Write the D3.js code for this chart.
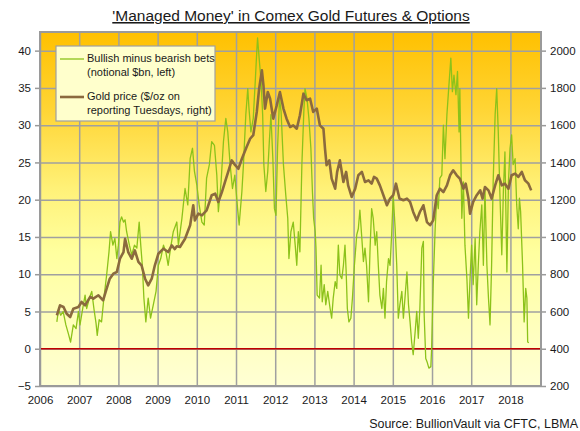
<!DOCTYPE html>
<html><head><meta charset="utf-8">
<script src="https://cdn.jsdelivr.net/npm/d3@7"></script>
<style>
body{margin:0;background:#fff;}
svg{display:block;font-family:"Liberation Sans",Arial,sans-serif;}
</style></head>
<body><svg id="c" width="580" height="431"></svg>
<script>
const titleText = "'Managed Money' in Comex Gold Futures & Options";
const sourceText = "Source: BullionVault via CFTC, LBMA";
const legendBets = ["Bullish minus bearish bets", "(notional $bn, left)"];
const legendGold = ["Gold price ($/oz on", "reporting Tuesdays, right)"];
const yearTicks = [2006,2007,2008,2009,2010,2011,2012,2013,2014,2015,2016,2017,2018];
const leftTicks = [-5,0,5,10,15,20,25,30,35,40];
const rightTicks = [200,400,600,800,1000,1200,1400,1600,1800,2000];

const goldYears = [2006.43,2006.51,2006.60,2006.68,2006.77,2006.85,2006.98,2007.06,2007.15,2007.28,2007.36,2007.49,2007.61,2007.70,2007.78,2007.87,2007.96,2008.04,2008.13,2008.17,2008.25,2008.34,2008.42,2008.51,2008.59,2008.68,2008.76,2008.85,2008.93,2009.02,2009.15,2009.27,2009.36,2009.44,2009.49,2009.57,2009.70,2009.83,2009.91,2009.95,2010.04,2010.13,2010.25,2010.38,2010.47,2010.55,2010.64,2010.72,2010.80,2010.89,2010.98,2011.06,2011.15,2011.27,2011.36,2011.44,2011.53,2011.59,2011.66,2011.70,2011.74,2011.81,2011.87,2011.95,2012.04,2012.12,2012.21,2012.29,2012.38,2012.46,2012.55,2012.63,2012.72,2012.80,2012.89,2012.97,2013.06,2013.14,2013.23,2013.27,2013.31,2013.38,2013.44,2013.53,2013.58,2013.65,2013.74,2013.81,2013.86,2013.95,2014.04,2014.12,2014.21,2014.29,2014.38,2014.46,2014.52,2014.59,2014.67,2014.76,2014.85,2014.93,2015.01,2015.08,2015.17,2015.27,2015.36,2015.44,2015.52,2015.61,2015.69,2015.78,2015.87,2015.95,2016.03,2016.12,2016.20,2016.29,2016.38,2016.46,2016.54,2016.63,2016.71,2016.80,2016.86,2016.93,2016.97,2017.05,2017.14,2017.23,2017.29,2017.35,2017.44,2017.52,2017.61,2017.69,2017.78,2017.86,2017.95,2018.03,2018.12,2018.20,2018.29,2018.37,2018.46,2018.53];
const goldPrice = [579,633,624,588,570,615,624,651,633,678,669,687,660,722,776,803,812,883,919,990,919,883,928,866,848,776,740,776,848,910,937,919,955,935,950,946,990,1063,1170,1089,1125,1116,1143,1224,1232,1188,1241,1295,1349,1411,1385,1366,1420,1483,1527,1546,1671,1796,1894,1814,1689,1778,1742,1635,1707,1778,1689,1635,1590,1599,1581,1653,1769,1734,1742,1671,1689,1599,1581,1474,1385,1411,1313,1259,1349,1411,1295,1349,1277,1215,1259,1331,1349,1295,1304,1286,1322,1313,1277,1224,1170,1206,1224,1286,1206,1197,1206,1188,1134,1089,1134,1170,1080,1063,1089,1224,1259,1241,1277,1331,1358,1331,1313,1259,1286,1206,1125,1188,1224,1250,1206,1268,1250,1206,1277,1331,1277,1286,1259,1331,1340,1322,1349,1304,1286,1250];

const betYears = [2006.43,2006.47,2006.53,2006.59,2006.66,2006.72,2006.78,2006.85,2006.92,2006.98,2007.02,2007.09,2007.15,2007.19,2007.26,2007.32,2007.38,2007.43,2007.46,2007.51,2007.57,2007.63,2007.70,2007.76,2007.80,2007.86,2007.91,2007.96,2008.00,2008.04,2008.08,2008.13,2008.17,2008.21,2008.28,2008.34,2008.41,2008.47,2008.53,2008.57,2008.61,2008.65,2008.70,2008.76,2008.82,2008.89,2008.96,2009.02,2009.08,2009.15,2009.21,2009.27,2009.33,2009.40,2009.49,2009.53,2009.62,2009.70,2009.77,2009.83,2009.89,2009.94,2010.00,2010.06,2010.13,2010.19,2010.25,2010.32,2010.38,2010.45,2010.51,2010.55,2010.62,2010.68,2010.74,2010.79,2010.85,2010.91,2010.97,2011.04,2011.08,2011.15,2011.19,2011.25,2011.30,2011.33,2011.38,2011.44,2011.49,2011.53,2011.55,2011.59,2011.64,2011.68,2011.71,2011.76,2011.81,2011.85,2011.89,2011.94,2011.98,2012.02,2012.06,2012.11,2012.15,2012.21,2012.27,2012.32,2012.35,2012.40,2012.46,2012.51,2012.55,2012.59,2012.63,2012.68,2012.73,2012.76,2012.81,2012.86,2012.91,2012.95,2012.98,2013.02,2013.04,2013.07,2013.13,2013.17,2013.20,2013.25,2013.29,2013.34,2013.40,2013.44,2013.48,2013.53,2013.57,2013.61,2013.65,2013.70,2013.74,2013.78,2013.81,2013.84,2013.88,2013.93,2013.97,2014.02,2014.08,2014.12,2014.16,2014.21,2014.25,2014.29,2014.33,2014.38,2014.42,2014.46,2014.50,2014.55,2014.59,2014.63,2014.67,2014.72,2014.76,2014.80,2014.84,2014.89,2014.93,2014.97,2015.01,2015.06,2015.10,2015.14,2015.18,2015.23,2015.27,2015.31,2015.36,2015.40,2015.44,2015.48,2015.52,2015.57,2015.61,2015.65,2015.69,2015.74,2015.78,2015.80,2015.84,2015.87,2015.92,2015.97,2015.99,2016.03,2016.08,2016.12,2016.16,2016.20,2016.25,2016.29,2016.33,2016.38,2016.42,2016.48,2016.52,2016.56,2016.61,2016.65,2016.69,2016.71,2016.76,2016.80,2016.84,2016.89,2016.93,2016.97,2017.01,2017.05,2017.10,2017.14,2017.18,2017.22,2017.27,2017.31,2017.35,2017.40,2017.44,2017.48,2017.52,2017.56,2017.61,2017.65,2017.69,2017.73,2017.78,2017.82,2017.86,2017.91,2017.95,2017.99,2018.03,2018.07,2018.12,2018.16,2018.20,2018.23,2018.26,2018.31,2018.35,2018.39,2018.42,2018.44,2018.47,2018.53];
const betValue = [3.6,5.2,4.5,5.0,3.2,2.1,0.9,3.2,2.7,5.0,3.2,5.4,7.2,5.4,6.8,7.7,5.2,3.4,1.8,3.9,3.6,6.8,9.9,13.0,15.7,13.9,14.8,12.1,13.9,17.0,17.7,17.0,17.3,15.7,13.9,12.6,13.9,13.5,17.0,13.9,11.2,6.8,3.6,6.8,4.1,5.9,7.7,11.2,12.1,13.9,13.0,11.2,13.5,15.7,17.0,13.9,17.5,21.5,19.3,25.5,26.9,23.8,22.0,19.3,17.0,16.6,22.9,24.7,27.8,27.3,23.3,18.4,22.4,27.8,30.9,29.1,24.7,21.5,23.3,18.8,16.6,21.1,24.7,31.4,34.9,32.3,29.1,30.9,35.8,39.9,41.7,39.0,35.8,31.4,24.7,21.1,23.8,27.8,31.4,25.5,18.8,17.9,26.9,33.6,31.8,24.7,20.6,17.5,12.1,15.7,17.0,13.9,11.2,15.7,13.0,24.7,31.8,34.9,33.6,30.9,26.9,21.0,17.5,15.7,13.5,7.2,6.8,11.2,6.3,8.6,5.9,7.7,5.4,4.1,6.8,9.0,8.1,13.9,9.9,9.4,11.2,13.9,10.3,5.4,3.6,4.1,6.8,11.2,15.3,16.1,18.6,14.8,11.7,13.5,11.2,6.3,13.5,18.8,17.5,13.9,15.7,11.2,7.2,5.4,8.1,4.1,9.0,12.1,11.2,15.3,20.6,16.1,11.2,4.1,5.9,7.7,4.1,6.8,10.3,5.9,3.6,0.9,-0.8,2.3,5.0,1.4,5.4,13.5,14.4,4.5,-1.3,-1.7,-2.6,-2.4,0.0,8.6,16.1,20.2,18.8,22.9,23.3,30.0,25.5,31.4,34.5,39.0,34.5,36.7,34.1,37.2,29.1,34.9,17.5,22.4,13.9,9.4,4.1,9.4,13.9,8.6,14.8,5.9,11.2,15.7,19.3,11.2,21.5,11.2,6.8,3.2,11.2,22.4,31.4,34.9,29.1,21.1,12.6,21.1,26.4,10.3,22.4,26.9,28.7,24.7,25.5,19.3,16.1,20.2,18.4,11.2,3.6,8.1,6.8,0.9,0.8];

const svg = d3.select("#c");
const L = 40, R = 541, T = 32, B = 386;
const x = d3.scaleLinear().domain([2006, 2018.78]).range([L, R]);
const yL = d3.scaleLinear().domain([-5, 42.5]).range([B, T]);
const yR = d3.scaleLinear().domain([200, 2100]).range([B, T]);

const defs = svg.append("defs");
const grad = defs.append("linearGradient").attr("id","bg").attr("x1",0).attr("y1",0).attr("x2",0).attr("y2",1);
[["0%","#ffc000"],["22%","#ffd535"],["45%","#fff27a"],["62%","#ffff9e"],["100%","#ffffd4"]].forEach(s=>grad.append("stop").attr("offset",s[0]).attr("stop-color",s[1]));
defs.append("clipPath").attr("id","clip").append("rect").attr("x",L).attr("y",T).attr("width",R-L).attr("height",B-T);

svg.append("rect").attr("x",L).attr("y",T).attr("width",R-L).attr("height",B-T).attr("fill","url(#bg)");

// grid
const gridY = svg.append("g").attr("transform",`translate(${L},0)`)
  .call(d3.axisLeft(yL).tickValues(leftTicks).tickSize(-(R-L)).tickFormat(""));
gridY.select(".domain").remove();
gridY.selectAll("line").attr("stroke","#a0a0a0").attr("stroke-width",1.5);
const gridX = svg.append("g").attr("transform",`translate(0,${B})`)
  .call(d3.axisBottom(x).tickValues(yearTicks).tickSize(-(B-T)).tickFormat(""));
gridX.select(".domain").remove();
gridX.selectAll("line").attr("stroke","#a0a0a0").attr("stroke-width",1.5);

// zero line
svg.append("line").attr("x1",L).attr("x2",R).attr("y1",yL(0)).attr("y2",yL(0)).attr("stroke","#c00000").attr("stroke-width",1.5);

const g = svg.append("g").attr("clip-path","url(#clip)");
const betData = betYears.map((d,i)=>[d,betValue[i]]);
const goldData = goldYears.map((d,i)=>[d,goldPrice[i]]);
g.append("path").datum(betData).attr("fill","none").attr("stroke","#8cc21a").attr("stroke-width",1.3).attr("stroke-linejoin","round")
  .attr("d", d3.line().x(d=>x(d[0])).y(d=>yL(d[1])));
g.append("path").datum(goldData).attr("fill","none").attr("stroke","#8b6a3e").attr("stroke-width",2.6).attr("stroke-linejoin","round")
  .attr("d", d3.line().x(d=>x(d[0])).y(d=>yR(d[1])));

// border
svg.append("rect").attr("x",L).attr("y",T).attr("width",R-L).attr("height",B-T).attr("fill","none").attr("stroke","#9a9a9a").attr("stroke-width",2);

// axes
const axL = svg.append("g").attr("transform",`translate(${L},0)`)
  .call(d3.axisLeft(yL).tickValues(leftTicks).tickSize(5).tickPadding(4).tickFormat(d3.format("d")));
const axR = svg.append("g").attr("transform",`translate(${R},0)`)
  .call(d3.axisRight(yR).tickValues(rightTicks).tickSize(5).tickPadding(4).tickFormat(d3.format("d")));
const axB = svg.append("g").attr("transform",`translate(0,${B})`)
  .call(d3.axisBottom(x).tickValues(yearTicks).tickSize(0).tickPadding(10).tickFormat(d3.format("d")));
[axL,axR,axB].forEach(a=>{
  a.select(".domain").remove();
  a.selectAll("line").attr("stroke","#9a9a9a").attr("stroke-width",1.5);
  a.selectAll("text").attr("fill","#1a1a1a").style("font-size","11.5px").style("font-family","'Liberation Sans',Arial,sans-serif");
});

// title
svg.append("text").attr("x",291).attr("y",21).attr("text-anchor","middle")
  .style("font-size","15.5px").style("text-decoration","underline").attr("fill","#1a1a1a").text(titleText);
// source
svg.append("text").attr("x",578).attr("y",428).attr("text-anchor","end")
  .style("font-size","12.5px").attr("fill","#1a1a1a").text(sourceText);

// legend
const lg = svg.append("g");
lg.append("rect").attr("x",56).attr("y",46).attr("width",159).attr("height",75).attr("fill","#ffffcc").attr("stroke","#a0a0a0").attr("stroke-width",1.2);
lg.append("line").attr("x1",60).attr("x2",84).attr("y1",59).attr("y2",59).attr("stroke","#8cc21a").attr("stroke-width",1.3);
lg.append("line").attr("x1",60).attr("x2",84).attr("y1",97).attr("y2",97).attr("stroke","#8b6a3e").attr("stroke-width",2.6);
const lt = [[legendBets[0],62],[legendBets[1],76],[legendGold[0],100],[legendGold[1],114]];
lt.forEach(t=>lg.append("text").attr("x",87).attr("y",t[1]).style("font-size","11px").attr("fill","#1a1a1a").text(t[0]));
</script></body></html>
